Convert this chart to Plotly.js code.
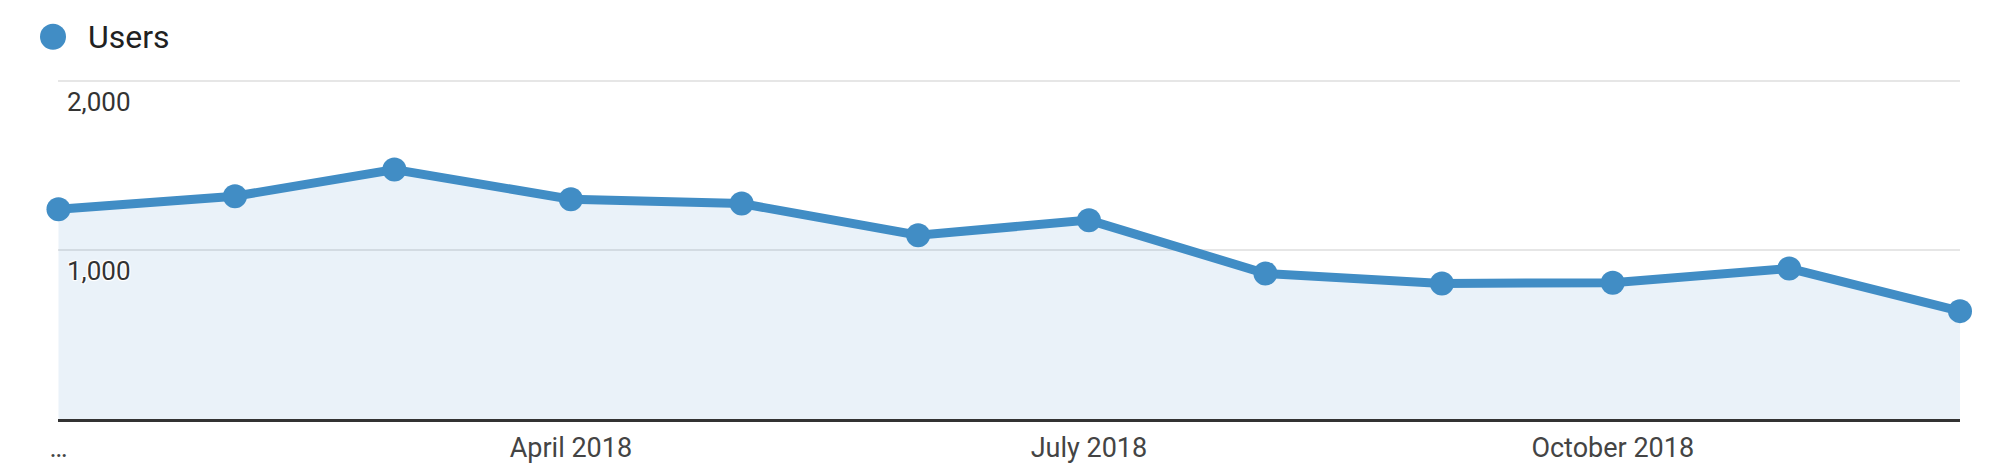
<!DOCTYPE html>
<html>
<head>
<meta charset="utf-8">
<script src="https://cdn.plot.ly/plotly-3.0.1.min.js"></script>
<style>
  html, body { margin: 0; padding: 0; background: #fff; }
  #chart { width: 2002px; height: 468px; }
</style>
</head>
<body>
<div id="chart"></div>
<script>
// ---- data ----
const seriesName = "Users";
const months = ["2018-01-01","2018-02-01","2018-03-01","2018-04-01","2018-05-01","2018-06-01",
                "2018-07-01","2018-08-01","2018-09-01","2018-10-01","2018-11-01","2018-12-01"];
const users = [1243, 1320, 1478, 1302, 1276, 1089, 1178, 862, 803, 807, 892, 639];
const xTickVals = ["2018-01-01", "2018-04-01", "2018-07-01", "2018-10-01"];
const xTickText = ["…", "April 2018", "July 2018", "October 2018"];
const yTickVals = [1000, 2000];

const lineColor = "#418dc5";
const halo = "1px 1px 1px #fff, -1px -1px 1px #fff, 1px -1px 1px #fff, -1px 1px 1px #fff, 0 0 2px #fff";

const trace = {
  type: "scatter",
  mode: "lines+markers",
  name: seriesName,
  x: months,
  y: users,
  fill: "tozeroy",
  fillcolor: "rgba(65,141,197,0.11)",
  line: { color: lineColor, width: 9 },
  marker: { color: lineColor, size: 24, line: { width: 0 } },
  cliponaxis: false,
  showlegend: false,
  hoverinfo: "x+y"
};

const layout = {
  width: 2002,
  height: 468,
  margin: { l: 58, r: 42, t: 78, b: 49, pad: 0 },
  paper_bgcolor: "#ffffff",
  plot_bgcolor: "#ffffff",
  font: { family: "Roboto, Arial, sans-serif", color: "#333333" },
  showlegend: false,
  xaxis: {
    type: "date",
    range: ["2017-12-31 22:00", months[months.length - 1]],
    tickmode: "array",
    tickvals: xTickVals,
    ticktext: xTickText,
    tickfont: { size: 27, color: "#444444" },
    showgrid: false,
    zeroline: false,
    showline: true,
    linecolor: "#333333",
    linewidth: 3,
    ticks: "",
    ticklabelstandoff: 3,
    automargin: false,
    fixedrange: true
  },
  yaxis: {
    range: [0, 2020],
    tickvals: yTickVals,
    tickformat: ",d",
    ticklabelposition: "inside",
    ticklabelshift: 21,
    ticklabelstandoff: 6,
    tickfont: { size: 26, color: "#333333", shadow: halo },
    showgrid: true,
    gridcolor: "#e6e6e6",
    gridwidth: 2,
    zeroline: false,
    showline: false,
    ticks: "",
    fixedrange: true
  },
  shapes: [
    {
      type: "circle",
      xref: "paper", yref: "paper",
      xsizemode: "pixel", ysizemode: "pixel",
      xanchor: -0.00263, yanchor: 1.1209,
      x0: -13, x1: 13, y0: -13, y1: 13,
      fillcolor: lineColor,
      line: { width: 0 }
    }
  ],
  annotations: [
    {
      xref: "paper", yref: "paper",
      x: 0.0145, y: 1.1209,
      xanchor: "left", yanchor: "middle",
      text: seriesName,
      showarrow: false,
      font: { size: 32, color: "#212121", family: "Roboto, Arial, sans-serif" }
    }
  ]
};

Plotly.newPlot("chart", [trace], layout, { displayModeBar: false, staticPlot: true }).then(function (gd) {
  // y-axis inside labels near the x-axis edge can hide the first x label; make sure it stays visible
  var first = gd.querySelector(".xtick text");
  if (first) { first.style.display = "inline"; first.removeAttribute("display"); }
});
</script>
</body>
</html>
